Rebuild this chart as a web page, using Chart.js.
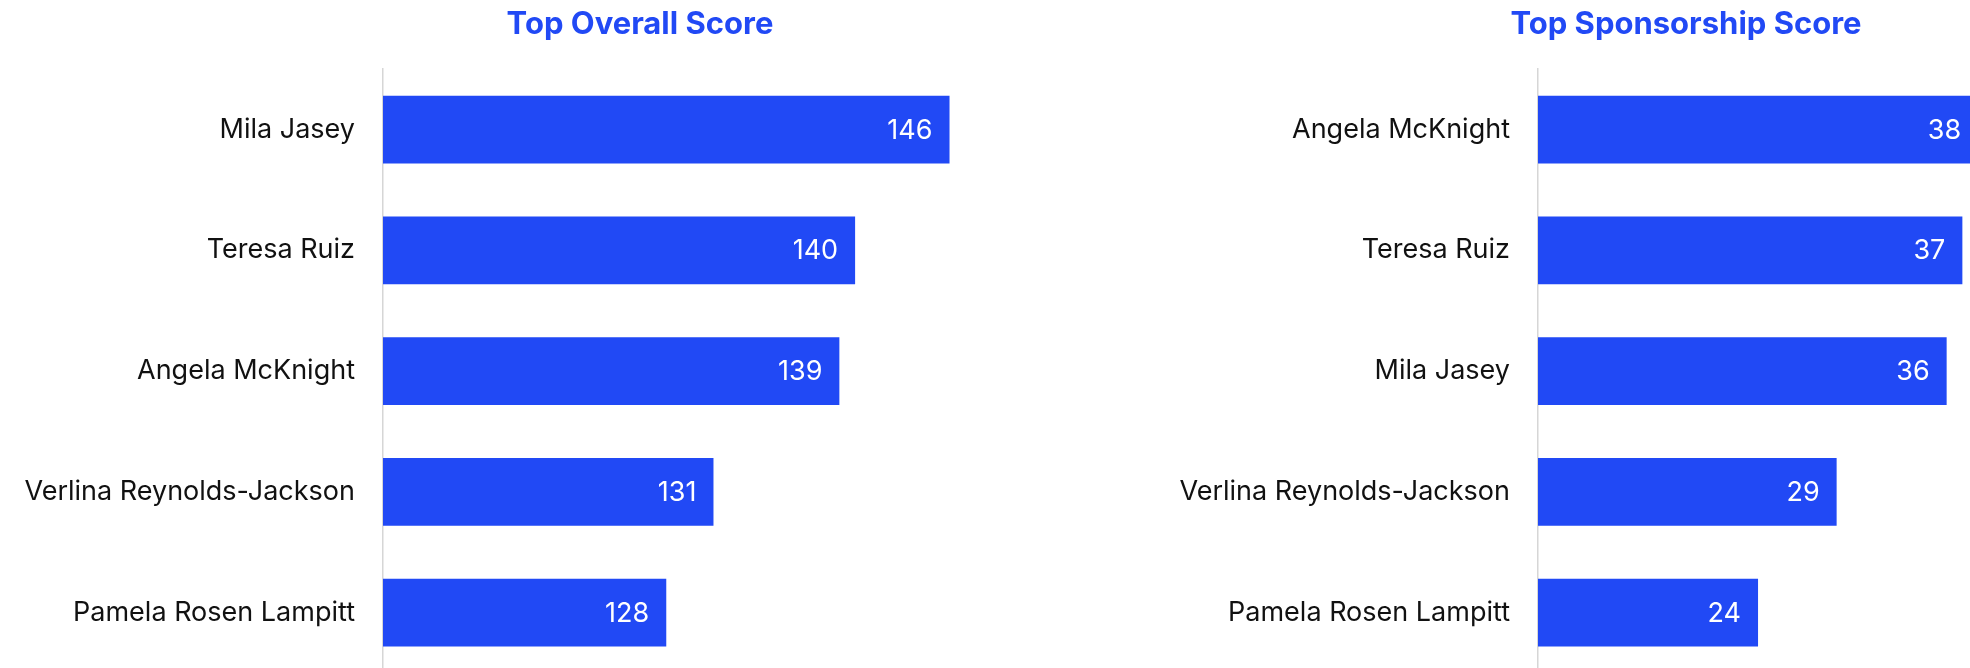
<!DOCTYPE html>
<html lang="en">
<head>
    <meta charset="UTF-8">
    <title>Top Scores</title>
    <script src="https://cdn.jsdelivr.net/npm/chart.js"></script>
    <style>
        html, body { margin: 0; padding: 0; background: #fff; overflow: hidden; }
        #page { position: relative; width: 1970px; height: 668px; overflow: hidden; }
        canvas { position: absolute; top: 0; }
        #overallChart { left: 0; }
        #sponsorChart { left: 1111px; }
    </style>
</head>
<body>
    <div id="page">
        <canvas id="overallChart" width="1280" height="673"></canvas>
        <canvas id="sponsorChart" width="1150" height="673"></canvas>
    </div>

    <script>
        // Data
        const overallNames = ['Mila Jasey', 'Teresa Ruiz', 'Angela McKnight', 'Verlina Reynolds-Jackson', 'Pamela Rosen Lampitt'];
        const overallScores = [146, 140, 139, 131, 128];

        const sponsorNames = ['Angela McKnight', 'Teresa Ruiz', 'Mila Jasey', 'Verlina Reynolds-Jackson', 'Pamela Rosen Lampitt'];
        const sponsorScores = [38, 37, 36, 29, 24];

        const BLUE = '#2149F5';
        const FONT = 'Inter, "Open Sans", sans-serif';

        // white value labels at the end of each bar
        const valueLabels = {
            id: 'valueLabels',
            afterDatasetsDraw(chart) {
                const ctx = chart.ctx;
                const meta = chart.getDatasetMeta(0);
                ctx.save();
                ctx.fillStyle = '#ffffff';
                ctx.font = '27px ' + FONT;
                ctx.textAlign = 'right';
                ctx.textBaseline = 'middle';
                meta.data.forEach((bar, i) => {
                    ctx.fillText(chart.data.datasets[0].data[i], bar.x - 17, bar.y + 1);
                });
                ctx.restore();
            }
        };

        function makeChart(id, title, labels, values, min, max, axisWidth) {
            return new Chart(document.getElementById(id), {
                type: 'bar',
                data: {
                    labels: labels,
                    datasets: [{
                        data: values,
                        backgroundColor: BLUE,
                        barPercentage: 0.562,
                        categoryPercentage: 1.0,
                        borderWidth: 0
                    }]
                },
                options: {
                    indexAxis: 'y',
                    responsive: false,
                    animation: false,
                    devicePixelRatio: 1,
                    layout: { padding: 0 },
                    scales: {
                        x: {
                            display: false,
                            min: min,
                            max: max
                        },
                        y: {
                            grid: { display: false, drawTicks: false },
                            border: { display: true, color: '#d6d6d6', width: 1.5 },
                            ticks: {
                                color: '#111111',
                                padding: 28,
                                font: { family: FONT, size: 27 }
                            },
                            afterFit(scale) {
                                scale.width = axisWidth;
                                // keep the label padding from shrinking the plot vertically
                                scale.paddingTop = 0;
                                scale.paddingBottom = 0;
                            }
                        }
                    },
                    plugins: {
                        legend: { display: false },
                        tooltip: { enabled: false },
                        title: {
                            display: true,
                            text: title,
                            color: BLUE,
                            font: { family: FONT, size: 31, weight: 'bold' },
                            padding: { top: 6, bottom: 26 }
                        }
                    }
                },
                plugins: [valueLabels]
            });
        }

        makeChart('overallChart', 'Top Overall Score', overallNames, overallScores, 110, 167, 383);
        makeChart('sponsorChart', 'Top Sponsorship Score', sponsorNames, sponsorScores, 10, 56, 427);
    </script>
</body>
</html>
